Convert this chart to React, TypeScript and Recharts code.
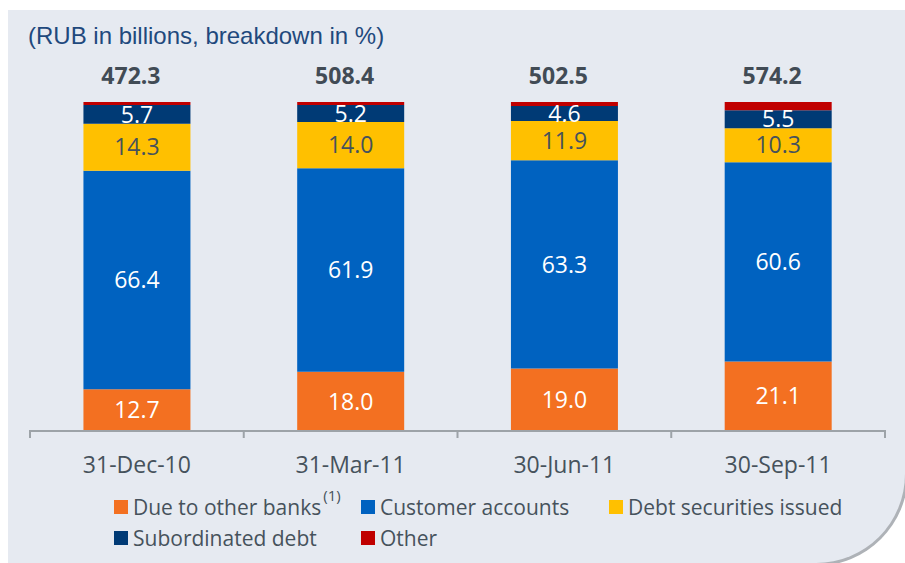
import React from 'react';
import { BarChart, Bar, XAxis, YAxis, LabelList, Legend } from 'recharts';

const categories = ['31-Dec-10', '31-Mar-11', '30-Jun-11', '30-Sep-11'];
const totals = [472.3, 508.4, 502.5, 574.2];
const dueToOtherBanks = [12.7, 18.0, 19.0, 21.1];
const customerAccounts = [66.4, 61.9, 63.3, 60.6];
const debtSecurities = [14.3, 14.0, 11.9, 10.3];
const subordinatedDebt = [5.7, 5.2, 4.6, 5.5];
const other = [0.9, 0.9, 1.2, 2.5];

const data = categories.map((c, i) => ({
  category: c,
  total: totals[i],
  due: dueToOtherBanks[i],
  customer: customerAccounts[i],
  debt: debtSecurities[i],
  sub: subordinatedDebt[i],
  other: other[i],
}));

const series = [
  { key: 'due', name: 'Due to other banks', color: '#F37021', label: '#FFFFFF', sup: '(1)' },
  { key: 'customer', name: 'Customer accounts', color: '#0062C0', label: '#FFFFFF' },
  { key: 'debt', name: 'Debt securities issued', color: '#FFC000', label: '#46525C' },
  { key: 'sub', name: 'Subordinated debt', color: '#003A75', label: '#FFFFFF' },
  { key: 'other', name: 'Other', color: '#C00000', label: null },
];

const FONT = '"Open Sans", sans-serif';
const TEXT = '#46525C';
const AXIS = '#9DA3A8';

const legendCols = [114, 361, 609];

const LegendContent = () => (
  <div style={{ position: 'relative', width: 905, height: 70, fontFamily: FONT, fontSize: 21, color: TEXT }}>
    {series.map((s, i) => {
      const col = i < 3 ? i : i - 3;
      const row = i < 3 ? 0 : 1;
      return (
        <div
          key={s.key}
          style={{
            position: 'absolute',
            left: legendCols[col],
            top: row * 31,
            display: 'flex',
            alignItems: 'center',
            height: 30,
            whiteSpace: 'nowrap',
          }}
        >
          <span style={{ display: 'inline-block', width: 14, height: 14, background: s.color, marginRight: 5 }} />
          <span>
            {s.name}
            {s.sup ? (
              <span style={{ fontSize: 15, position: 'relative', top: -14, marginLeft: 2 }}>{s.sup}</span>
            ) : null}
          </span>
        </div>
      );
    })}
  </div>
);

const CategoryTick = (props: any) => {
  const { x, y, payload, index } = props;
  const half = payload && typeof payload.offset === 'number' && payload.offset > 0 ? payload.offset : 106.875;
  const last = index === categories.length - 1;
  return (
    <g>
      <line x1={x - half} x2={x - half} y1={y - 1} y2={y + 7} stroke={AXIS} strokeWidth={2} />
      {last ? <line x1={x + half} x2={x + half} y1={y - 1} y2={y + 7} stroke={AXIS} strokeWidth={2} /> : null}
      <text x={x} y={y + 42} textAnchor="middle" fill={TEXT} fontFamily={FONT} fontSize={23}>
        {payload.value}
      </text>
    </g>
  );
};

export default function App() {
  return (
    <div style={{ position: 'absolute', left: 0, top: 0, width: 905, height: 563, overflow: 'hidden', background: '#FFFFFF' }}>
      <div
        style={{
          position: 'absolute',
          left: 8,
          top: 10,
          width: 900,
          height: 556,
          background: '#E6EAF1',
          borderRight: '3px solid #AEB2B7',
          borderBottom: '3px solid #AEB2B7',
          borderBottomRightRadius: 92,
          boxSizing: 'border-box',
        }}
      />
      <div
        style={{
          position: 'absolute',
          left: 28,
          top: 22,
          fontFamily: '"Liberation Sans", Arial, sans-serif',
          fontSize: 24,
          lineHeight: '28px',
          color: '#1F497D',
          whiteSpace: 'nowrap',
        }}
      >
        (RUB in billions, breakdown in %)
      </div>
      <div style={{ position: 'absolute', left: 0, top: 0 }}>
        <BarChart
          width={905}
          height={563}
          data={data}
          margin={{ top: 102, right: 20, bottom: 92, left: 30 }}
          barCategoryGap="25%"
        >
          <XAxis
            dataKey="category"
            height={40}
            axisLine={{ stroke: AXIS, strokeWidth: 2 }}
            tickLine={false}
            interval={0}
            tickSize={0}
            tickMargin={0}
            tick={<CategoryTick />}
          />
          <YAxis hide domain={[0, 100]} type="number" />
          <Legend
            layout="horizontal"
            verticalAlign="middle"
            align="center"
            content={<LegendContent />}
            wrapperStyle={{ top: 492, left: 0, width: 905 }}
          />
          {series.map((s) => (
            <Bar key={s.key} dataKey={s.key} name={s.name} stackId="a" fill={s.color} isAnimationActive={false}>
              {s.label ? (
                <LabelList
                  dataKey={s.key}
                  position="center"
                  fill={s.label}
                  style={{ fontFamily: FONT, fontSize: 23 }}
                  formatter={(v: number) => v.toFixed(1)}
                />
              ) : (
                <LabelList
                  dataKey="total"
                  position="top"
                  offset={18}
                  fill="#414B55"
                  dx={-6}
                  style={{ fontFamily: FONT, fontSize: 23, fontWeight: 700 }}
                  formatter={(v: number) => v.toFixed(1)}
                />
              )}
            </Bar>
          ))}
        </BarChart>
      </div>
    </div>
  );
}
